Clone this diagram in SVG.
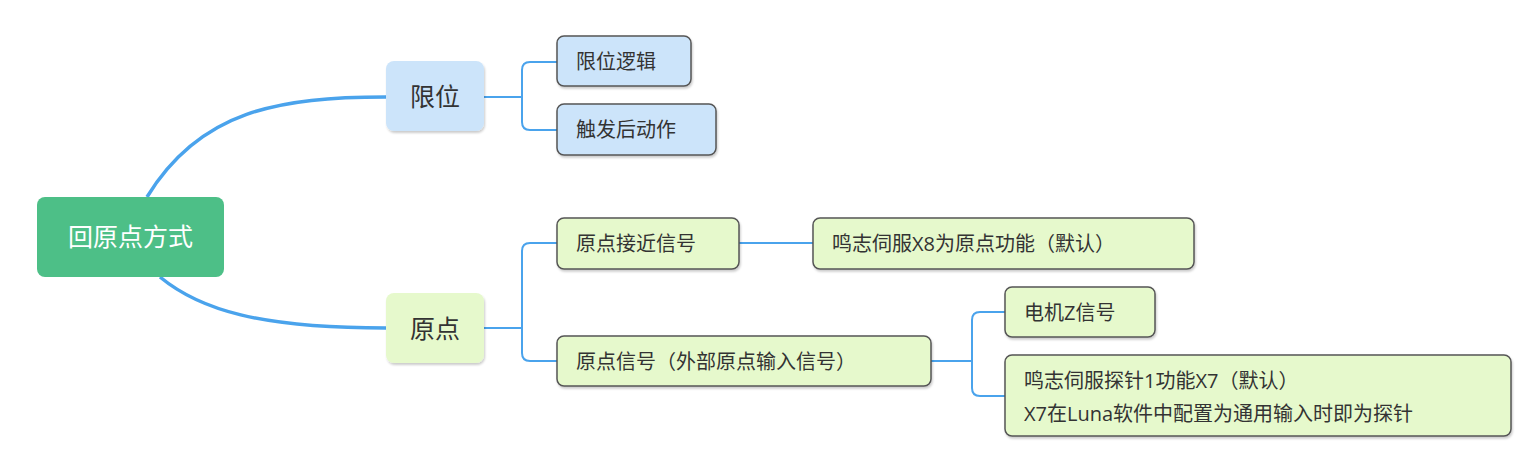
<svg xmlns="http://www.w3.org/2000/svg" width="1531" height="456" viewBox="0 0 1531 456">
<style>
text{font-family:"Open Sans","Noto Sans CJK SC",sans-serif;fill:#333}
.c{fill:none;stroke:#4aa3ec;stroke-width:2}
.m{fill:none;stroke:#4aa3ec;stroke-width:3.5}
.b{fill:#cce4fa;stroke:#555;stroke-width:1.5}
.g{fill:#e6f9cc;stroke:#555;stroke-width:1.5}
.t{font-size:20px}
.t2{font-size:25px}
</style>
<defs><filter id="s" x="-10%" y="-10%" width="130%" height="140%"><feDropShadow dx="1" dy="2" stdDeviation="1.2" flood-color="#000" flood-opacity="0.2"/></filter></defs>
<g id="connectors">
<path class="m" d="M147,197 C200,110 280,97 386,97"/>
<path class="m" d="M160,277 C200,310 260,328 386,328"/>
<path class="c" d="M484,97 H522 M557,62 H530 Q522,62 522,70 V122 Q522,130 530,130 H557"/>
<path class="c" d="M484,328 H522 M557,243 H530 Q522,243 522,251 V353 Q522,361 530,361 H557"/>
<path class="c" d="M739,243 H813"/>
<path class="c" d="M931,361 H972 M1005,312 H980 Q972,312 972,320 V388 Q972,396 980,396 H1005"/>
</g>
<g id="root"><rect x="37" y="197" width="187" height="80" rx="8" fill="#4dbf87"/><text x="130.5" y="246" text-anchor="middle" style="font-size:25px;fill:#fff">回原点方式</text></g>
<g id="xianwei"><rect x="386" y="61" width="98" height="70" rx="8" fill="#cce4fa" filter="url(#s)"/><text x="435" y="106" text-anchor="middle" class="t2">限位</text></g>
<g id="yuandian"><rect x="386" y="293" width="98" height="70" rx="8" fill="#e6f9cc" filter="url(#s)"/><text x="435" y="338" text-anchor="middle" class="t2">原点</text></g>
<g id="n1"><rect class="b" x="557" y="36" width="134" height="50" rx="7" filter="url(#s)"/><text x="576" y="69" class="t">限位逻辑</text></g>
<g id="n2"><rect class="b" x="557" y="104" width="159" height="51" rx="7" filter="url(#s)"/><text x="576" y="137" class="t">触发后动作</text></g>
<g id="n3"><rect class="g" x="557" y="218" width="182" height="51" rx="7" filter="url(#s)"/><text x="576" y="251" class="t">原点接近信号</text></g>
<g id="n4"><rect class="g" x="557" y="336" width="374" height="50" rx="7" filter="url(#s)"/><text x="576" y="369" class="t">原点信号（外部原点输入信号）</text></g>
<g id="n5"><rect class="g" x="813" y="218" width="381" height="51" rx="7" filter="url(#s)"/><text x="832" y="251" class="t">鸣志伺服X8为原点功能（默认）</text></g>
<g id="n6"><rect class="g" x="1005" y="287" width="150" height="50" rx="7" filter="url(#s)"/><text x="1024" y="320" class="t">电机Z信号</text></g>
<g id="n7"><rect class="g" x="1005" y="355" width="506" height="81" rx="7" filter="url(#s)"/><text x="1024" y="388" class="t">鸣志伺服探针1功能X7（默认）</text><text x="1024" y="421" class="t">X7在Luna软件中配置为通用输入时即为探针</text></g>
</svg>
